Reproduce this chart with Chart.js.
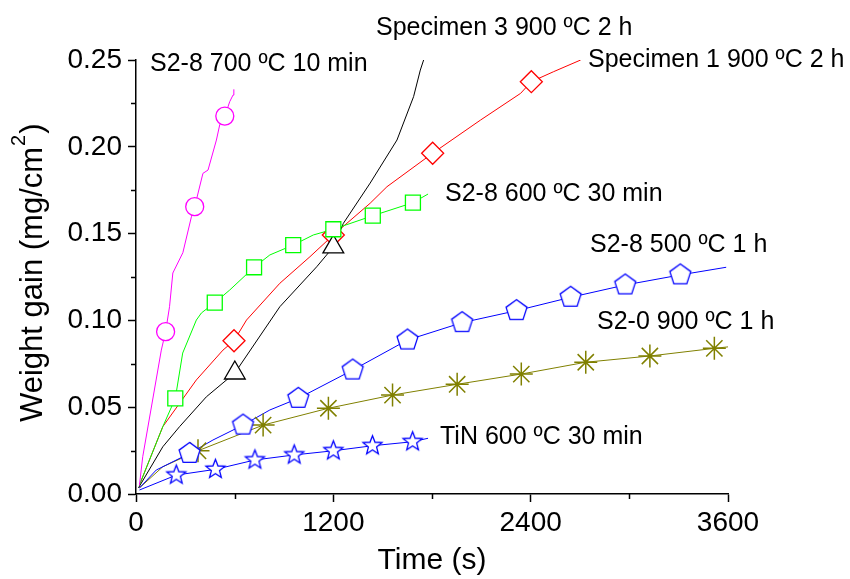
<!DOCTYPE html>
<html><head><meta charset="utf-8">
<script src="https://cdn.jsdelivr.net/npm/chart.js@4"></script>
<style>html,body{margin:0;padding:0;background:#fff}</style>
</head><body>
<canvas id="c" width="850" height="579"></canvas>
<script>
// ---------- data ----------
const timeTicks = [0, 1200, 2400, 3600];
const timeMinor = [600, 1800, 3000];
const gainTicks = [0, 0.05, 0.10, 0.15, 0.20, 0.25];
const gainMinor = [0.025, 0.075, 0.125, 0.175, 0.225];

// S2-8 700 ºC 10 min (magenta, circles)
const s700T = [21, 41, 154, 180, 204, 224, 285, 337, 357, 407, 438, 489, 509, 540, 570, 590, 595];
const s700W = [0.0052, 0.0215, 0.0829, 0.0935, 0.1079, 0.1273, 0.139, 0.1597, 0.1655, 0.1847, 0.1866, 0.2039, 0.2126, 0.2177, 0.226, 0.2298, 0.2331];
const s700MarkT = [180, 357, 540];
const s700MarkW = [0.0935, 0.1655, 0.2177];

// S2-8 600 ºC 30 min (green, squares)
const s600T = [21, 163, 239, 284, 367, 398, 479, 570, 718, 814, 956, 1078, 1200, 1440, 1684, 1776];
const s600W = [0.0052, 0.0388, 0.0551, 0.0812, 0.1002, 0.1043, 0.1102, 0.1175, 0.1306, 0.1377, 0.1434, 0.1492, 0.1525, 0.1603, 0.1678, 0.1728];
const s600MarkT = [239, 479, 718, 956, 1200, 1440, 1684];
const s600MarkW = [0.0551, 0.1102, 0.1306, 0.1434, 0.1525, 0.1603, 0.1678];

// Specimen 1 900 ºC 2 h (red, diamonds)
const sp1T = [21, 163, 367, 529, 596, 672, 875, 1058, 1200, 1424, 1526, 1804, 2095, 2339, 2404, 2540, 2704];
const sp1W = [0.0052, 0.0388, 0.0657, 0.0829, 0.0883, 0.1002, 0.1214, 0.1367, 0.1492, 0.1675, 0.177, 0.1963, 0.2154, 0.2308, 0.2375, 0.2433, 0.25];
const sp1MarkT = [596, 1200, 1804, 2404];
const sp1MarkW = [0.0883, 0.1492, 0.1963, 0.2375];

// Specimen 3 900 ºC 2 h (black, triangles)
const sp3T = [15, 163, 265, 428, 601, 875, 1099, 1200, 1261, 1424, 1587, 1688, 1729, 1749];
const sp3W = [0.0035, 0.0272, 0.0388, 0.056, 0.0697, 0.1079, 0.1309, 0.1423, 0.1559, 0.1791, 0.2039, 0.2289, 0.2442, 0.25];
const sp3MarkT = [601, 1200];
const sp3MarkW = [0.0697, 0.1423];

// S2-8 500 ºC 1 h (blue, pentagons)
const s500T = [21, 123, 326, 468, 651, 814, 987, 1318, 1651, 1983, 2314, 2643, 2975, 3310, 3589];
const s500W = [0.0035, 0.0138, 0.0234, 0.0311, 0.0397, 0.0484, 0.0551, 0.0714, 0.0887, 0.0987, 0.1056, 0.1133, 0.1204, 0.1262, 0.1306];
const s500MarkT = [326, 651, 987, 1318, 1651, 1983, 2314, 2643, 2975, 3310];
const s500MarkW = [0.0234, 0.0397, 0.0551, 0.0714, 0.0887, 0.0987, 0.1056, 0.1133, 0.1204, 0.1262];

// S2-0 900 ºC 1 h (olive, asterisks)
const s20T = [21, 163, 377, 773, 1170, 1560, 1953, 2343, 2735, 3125, 3517, 3605];
const s20W = [0.0035, 0.0157, 0.0249, 0.0397, 0.0494, 0.057, 0.0632, 0.0691, 0.0759, 0.0795, 0.0839, 0.0848];
const s20MarkT = [377, 773, 1170, 1560, 1953, 2343, 2735, 3125, 3517];
const s20MarkW = [0.0249, 0.0397, 0.0494, 0.057, 0.0632, 0.0691, 0.0759, 0.0795, 0.0839];

// TiN 600 ºC 30 min (blue, stars)
const tinT = [21, 245, 483, 723, 962, 1200, 1438, 1682, 1776];
const tinW = [0.0023, 0.0109, 0.0142, 0.0196, 0.0225, 0.0249, 0.0278, 0.0301, 0.0321];
const tinMarkT = [245, 483, 723, 962, 1200, 1438, 1682];
const tinMarkW = [0.0109, 0.0142, 0.0196, 0.0225, 0.0249, 0.0278, 0.0301];

const labels = [
  {text: 'S2-8 700 ºC 10 min', x: 150, y: 64},
  {text: 'Specimen 3 900 ºC 2 h', x: 376, y: 28},
  {text: 'Specimen 1 900 ºC 2 h', x: 588, y: 60},
  {text: 'S2-8 600 ºC 30 min', x: 445, y: 194},
  {text: 'S2-8 500 ºC 1 h', x: 590, y: 245},
  {text: 'S2-0 900 ºC 1 h', x: 597, y: 322},
  {text: 'TiN 600 ºC 30 min', x: 440, y: 437}
];
const yTitle = {main: 'Weight gain (mg/cm', sup: '2', end: ')'};

// ---------- helpers ----------
const FONT = '"Liberation Sans", Arial, Helvetica, sans-serif';
const pts = (xs, ys) => xs.map((x, i) => ({x, y: ys[i]}));

function polyCanvas(verts, color, lw) {
  const R = Math.max(...verts.map(v => Math.hypot(v[0], v[1])));
  const size = Math.ceil(2 * R + 2 * lw + 2);
  const c = document.createElement('canvas');
  c.width = c.height = size;
  const g = c.getContext('2d');
  g.translate(size / 2, size / 2);
  g.beginPath();
  verts.forEach((v, i) => i ? g.lineTo(v[0], v[1]) : g.moveTo(v[0], v[1]));
  g.closePath();
  g.fillStyle = '#fff'; g.fill();
  g.strokeStyle = color; g.lineWidth = lw; g.lineJoin = 'miter'; g.stroke();
  return c;
}
function pentagon(R, color, lw) {
  const v = [];
  for (let i = 0; i < 5; i++) { const a = -Math.PI / 2 + i * 2 * Math.PI / 5; v.push([R * Math.cos(a), R * Math.sin(a)]); }
  return polyCanvas(v, color, lw);
}
function star5(R, r, color, lw) {
  const v = [];
  for (let i = 0; i < 10; i++) { const a = -Math.PI / 2 + i * Math.PI / 5; const rr = i % 2 ? r : R; v.push([rr * Math.cos(a), rr * Math.sin(a)]); }
  return polyCanvas(v, color, lw);
}

function lineSet(xs, ys, color) {
  return {data: pts(xs, ys), showLine: true, borderColor: color, borderWidth: 1, pointRadius: 0, order: 2, tension: 0};
}
function markSet(xs, ys, color, style, radius, bw) {
  return {data: pts(xs, ys), showLine: false, borderColor: color, backgroundColor: '#fff', pointBorderWidth: bw || 1.3,
          pointStyle: style, pointRadius: radius, order: 1};
}

const minorAndLabels = {
  id: 'minorAndLabels',
  afterDraw(chart) {
    const {ctx, chartArea: a, scales: {x, y}} = chart;
    ctx.save();
    ctx.strokeStyle = '#000'; ctx.lineWidth = 1.5;
    ctx.beginPath();
    gainMinor.forEach(v => { const p = Math.round(y.getPixelForValue(v)) + 0.5; ctx.moveTo(a.left - 5, p); ctx.lineTo(a.left, p); });
    timeMinor.forEach(v => { const p = Math.round(x.getPixelForValue(v)) + 0.5; ctx.moveTo(p, a.bottom); ctx.lineTo(p, a.bottom + 5); });
    ctx.stroke();
    ctx.fillStyle = '#000';
    ctx.font = '25px ' + FONT;
    ctx.textBaseline = 'middle';
    ctx.textAlign = 'left';
    labels.forEach(l => ctx.fillText(l.text, l.x, l.y));
    // y-axis title with a real superscript
    ctx.translate(42, 422);
    ctx.rotate(-Math.PI / 2);
    ctx.textBaseline = 'alphabetic';
    ctx.font = '31px ' + FONT;
    ctx.fillText(yTitle.main, 0, 0);
    let w = ctx.measureText(yTitle.main).width;
    ctx.font = '20px ' + FONT;
    ctx.fillText(yTitle.sup, w + 1, -17);
    w += ctx.measureText(yTitle.sup).width + 2;
    ctx.font = '31px ' + FONT;
    ctx.fillText(yTitle.end, w, 0);
    ctx.restore();
  }
};

const axisCommon = {
  type: 'linear',
  grid: {display: true, drawOnChartArea: false, drawTicks: true, tickLength: 8, tickWidth: 1.5, tickColor: '#000'},
  border: {display: true, color: '#000', width: 1.5}
};

new Chart(document.getElementById('c'), {
  type: 'scatter',
  data: {
    datasets: [
      lineSet(s700T, s700W, '#ff00ff'),
      lineSet(s600T, s600W, '#00ff00'),
      lineSet(sp3T, sp3W, '#000000'),
      lineSet(sp1T, sp1W, '#ff0000'),
      lineSet(s500T, s500W, '#0000ff'),
      lineSet(s20T, s20W, '#808000'),
      lineSet(tinT, tinW, '#0000ff'),
      markSet(s700MarkT, s700MarkW, '#ff00ff', 'circle', 9),
      markSet(s600MarkT, s600MarkW, '#00ff00', 'rect', 10.6),
      markSet(sp3MarkT, sp3MarkW, '#000000', 'triangle', 12),
      markSet(sp1MarkT, sp1MarkW, '#ff0000', 'rectRot', 11),
      markSet(s500MarkT, s500MarkW, '#0000ff', pentagon(11, '#0000ff', 1.3), 10),
      markSet(s20MarkT, s20MarkW, '#808000', 'star', 11.5, 1.5),
      markSet(tinMarkT, tinMarkW, '#0000ff', star5(10, 4.3, '#0000ff', 1.3), 10)
    ]
  },
  options: {
    responsive: false, animation: false, devicePixelRatio: 1,
    layout: {padding: {top: 60, right: 122, left: 0, bottom: 0}},
    plugins: {legend: {display: false}, tooltip: {enabled: false}},
    scales: {
      x: Object.assign({}, axisCommon, {
        min: 0, max: 3600,
        afterBuildTicks: s => { s.ticks = timeTicks.map(v => ({value: v})); },
        afterFit: s => { s.height = 85; },
        ticks: {color: '#000', font: {family: FONT, size: 28}, padding: 4, maxRotation: 0, autoSkip: false, callback: v => String(v)},
        title: {display: true, text: 'Time (s)', color: '#000', font: {family: FONT, size: 30}, padding: {top: 0, bottom: 0}}
      }),
      y: Object.assign({}, axisCommon, {
        min: 0, max: 0.25,
        afterBuildTicks: s => { s.ticks = gainTicks.map(v => ({value: v})); },
        afterFit: s => { s.width = 136; },
        ticks: {color: '#000', font: {family: FONT, size: 28}, padding: 6, autoSkip: false, callback: v => Number(v).toFixed(2)},
        title: {display: false}
      })
    }
  },
  plugins: [minorAndLabels]
});
</script>
</body></html>
